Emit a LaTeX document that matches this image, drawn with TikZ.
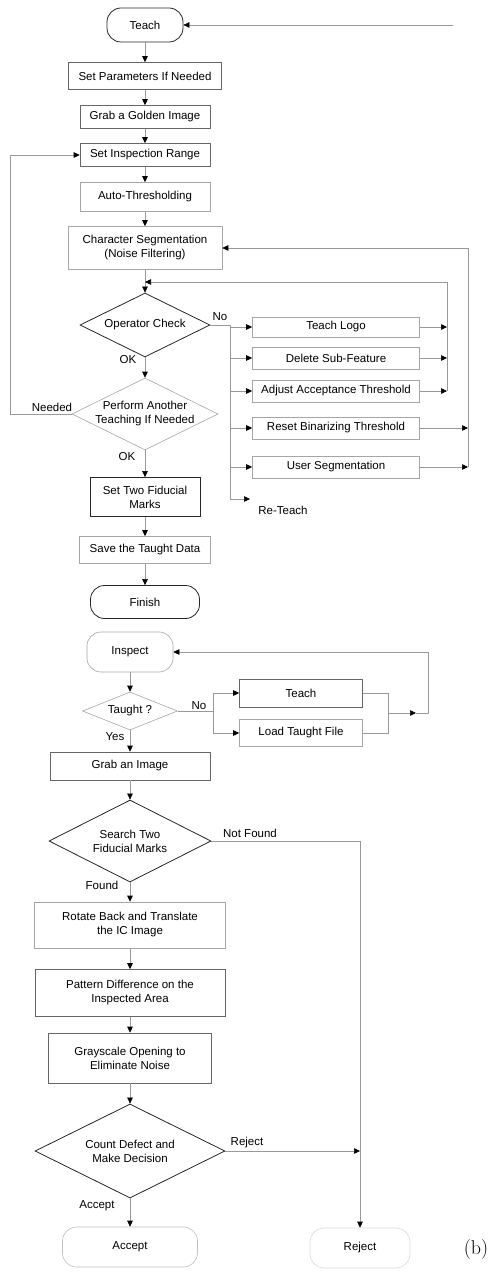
\documentclass[tikz,border=0pt]{standalone}
\usepackage{fontspec}
\usepackage{tikz}
\usetikzlibrary{arrows.meta, positioning, shapes.geometric}
\newfontfamily\arialfont{Liberation Sans}
\tikzset{
  every node/.style={font=\arialfont\fontsize{11.5}{14}\selectfont},
  block/.style={draw=black!35, align=center, inner sep=0pt, fill=white, line width=0.6pt},
  mid/.style={draw=black!60},
  dark/.style={draw=black!85, line width=0.8pt},
  terminal/.style={block, rounded corners=14pt},
  decision/.style={draw=black!85, diamond, aspect=2, inner sep=0pt, align=center, line width=0.8pt},
  note/.style={inner sep=0pt},
  line/.style={draw=black!40, line width=0.6pt},
  arrow/.style={line, -{Triangle[length=6pt, width=5.5pt, color=black]}}
}

\begin{document}
\begin{tikzpicture}[x=1pt, y=-1pt]
    \useasboundingbox (0,0) rectangle (488,1281);

    % teaching part
    \node[terminal, dark, minimum width=76, minimum height=34] (teach) at (145,25) {Teach};
    \node[block, mid, minimum width=153, minimum height=27] (setpar) at (145,76) {Set Parameters If Needed};
    \node[block, mid, minimum width=130, minimum height=23] (golden) at (145,117) {Grab a Golden Image};
    \node[block, mid, minimum width=130, minimum height=23] (range) at (145,155) {Set Inspection Range};
    \node[block, minimum width=130, minimum height=29] (autoth) at (145,197) {Auto-Thresholding};
    \node[block, minimum width=154, minimum height=43] (charseg) at (145,248) {Character Segmentation\\(Noise Filtering)};
    \node[decision, minimum width=130, minimum height=64] (opcheck) at (145,325) {Operator Check};
    \node[decision, draw=black!35, line width=0.6pt, minimum width=146, minimum height=72,
          label={[align=center]center:Perform Another\\Teaching If Needed}] (another) at (145,414) {};
    \node[block, dark, minimum width=110, minimum height=39] (fid) at (145,497) {Set Two Fiducial\\Marks};
    \node[block, minimum width=131, minimum height=27] (save) at (145,550) {Save the Taught Data};
    \node[terminal, dark, minimum width=109, minimum height=33] (finish) at (145,602) {Finish};

    % re-teach choices
    \node[block, minimum width=167, minimum height=20] (logo) at (336,327) {Teach Logo};
    \node[block, minimum width=167, minimum height=22] (delsub) at (336,358) {Delete Sub-Feature};
    \node[block, minimum width=167, minimum height=22] (adjth) at (336,391) {Adjust Acceptance Threshold};
    \node[block, minimum width=167, minimum height=22] (resetbin) at (336,428) {Reset Binarizing Threshold};
    \node[block, minimum width=167, minimum height=22] (userseg) at (336,467) {User Segmentation};

    \coordinate (jtop) at (145,282);
    \coordinate (brtop) at (230,325);
    \coordinate (brbot) at (230,499);
    \coordinate (reteach) at (250,499);
    \coordinate (rjoinA) at (447,282);
    \coordinate (rjoinB) at (468,248);
    \coordinate (tfree) at (453,25);
    \coordinate (loopbot) at (10,414);

    \node[note] (noA) at (220,317) {No};
    \node[note] (okA) at (128,360) {OK};
    \node[note] (needed) at (52,407) {Needed};
    \node[note] (okB) at (127,457) {OK};
    \node[note] (reteachlbl) at (283,510) {Re-Teach};

    \draw[arrow] (tfree) -- (teach.east);
    \draw[arrow] (teach) -- (setpar);
    \draw[arrow] (setpar) -- (golden);
    \draw[arrow] (golden) -- (range);
    \draw[arrow] (range) -- (autoth);
    \draw[arrow] (autoth) -- (charseg);
    \draw[line] (charseg.south) -- (jtop);
    \draw[arrow] (jtop) -- (opcheck.north);
    \draw[arrow] (opcheck.south) -- (another.north);
    \draw[arrow] (another.south) -- (fid.north);
    \draw[arrow] (fid) -- (save);
    \draw[arrow] (save) -- (finish);
    \draw[arrow] (another.west) -- (loopbot) |- (range.west);

    \draw[line] (opcheck.east) -- (brtop) -- (brbot);
    \draw[arrow] (brbot) -- (reteach);
    \foreach \b in {logo,delsub,adjth,resetbin,userseg}
        \draw[arrow] (brtop |- \b.west) -- (\b.west);
    \foreach \b in {logo,delsub,adjth}
        \draw[arrow] (\b.east) -- (\b.east -| rjoinA);
    \foreach \b in {resetbin,userseg}
        \draw[arrow] (\b.east) -- (\b.east -| rjoinB);
    \draw[line] (adjth.east -| rjoinA) -- (rjoinA);
    \draw[arrow] (rjoinA) -- (jtop);
    \draw[line] (userseg.east -| rjoinB) -- (rjoinB);
    \draw[arrow] (rjoinB) -- (charseg.east);

    % inspection part
    \node[terminal, minimum width=86, minimum height=40] (inspect) at (130,652) {Inspect};
    \node[decision, draw=black!35, line width=0.6pt, aspect=2.5, minimum width=95, minimum height=38] (taught) at (130,711) {Taught ?};
    \node[block, mid, minimum width=123, minimum height=28] (teachB) at (301,693) {Teach};
    \node[block, minimum width=123, minimum height=27] (load) at (301,733) {Load Taught File};
    \node[block, mid, minimum width=160, minimum height=28] (grab) at (130,766) {Grab an Image};
    \node[decision, minimum width=162, minimum height=82] (search) at (130,841) {Search Two\\Fiducial Marks};
    \node[block, minimum width=191, minimum height=46] (rotate) at (130,925) {Rotate Back and Translate\\the IC Image};
    \node[block, mid, minimum width=190, minimum height=47] (pattern) at (130,993) {Pattern Difference on the\\Inspected Area};
    \node[block, mid, minimum width=163, minimum height=50] (gray) at (130,1058) {Grayscale Opening to\\Eliminate Noise};
    \node[decision, minimum width=190, minimum height=94] (count) at (130,1151) {Count Defect and\\Make Decision};
    \node[terminal, draw=black!25, minimum width=135, minimum height=40] (accept) at (130,1247) {Accept};
    \node[terminal, draw=black!15, minimum width=100, minimum height=40] (reject) at (360,1248) {Reject};

    \coordinate (nsplit) at (213,711);
    \coordinate (mergeB) at (388,713);
    \coordinate (mtip) at (416,713);
    \coordinate (inret) at (428,713);
    \coordinate (nfcorner) at (360,841);

    \node[note] (noB) at (199,706) {No};
    \node[note] (yes) at (115,737) {Yes};
    \node[note] (notfound) at (250,833) {Not Found};
    \node[note] (found) at (102,885) {Found};
    \node[note] (rejlbl) at (247,1143) {Reject};
    \node[note] (acclbl) at (97,1206) {Accept};
    \node[note, font=\rmfamily\fontsize{20}{24}\selectfont] (figtag) at (476,1249) {(b)};

    \draw[arrow] (inspect) -- (taught);
    \draw[arrow] (taught) -- (grab);
    \draw[line] (taught.east) -- (nsplit);
    \draw[arrow] (nsplit) |- (teachB.west);
    \draw[arrow] (nsplit) |- (load.west);
    \draw[line] (teachB.east) -| (mergeB);
    \draw[line] (load.east) -| (mergeB);
    \draw[arrow] (mergeB) -- (mtip);
    \draw[arrow] (mtip) -- (inret) |- (inspect.east);
    \draw[arrow] (grab) -- (search);
    \draw[arrow] (search) -- (rotate);
    \draw[arrow] (rotate) -- (pattern);
    \draw[arrow] (pattern) -- (gray);
    \draw[arrow] (gray) -- (count);
    \draw[arrow] (count) -- (accept);
    \draw[line] (search.east) -- (nfcorner);
    \draw[arrow] (nfcorner) -- (reject.north);
    \draw[arrow] (count.east) -- (count.east -| nfcorner);
\end{tikzpicture}
\end{document}
